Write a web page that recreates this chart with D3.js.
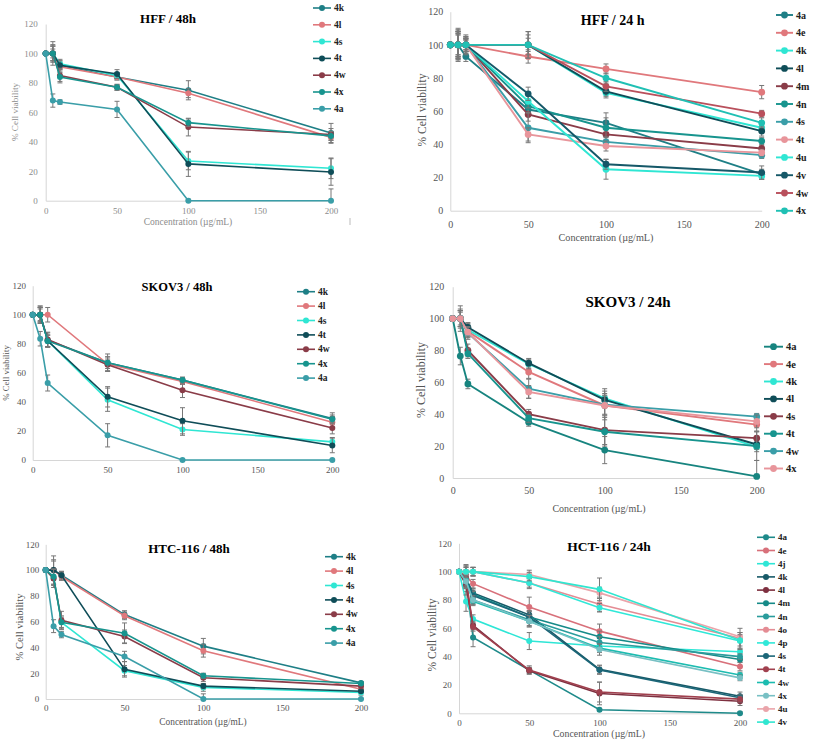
<!DOCTYPE html>
<html>
<head>
<meta charset="utf-8">
<script src="https://cdn.jsdelivr.net/npm/d3@7"></script>
<style>
  body { margin: 0; background: #fff; }
  svg { display: block; }
  svg text { font-family: "Liberation Serif", "DejaVu Serif", serif; }
</style>
</head>
<body>
<svg id="chart" width="813" height="742"></svg>
<script>
// concentrations tested (µg/mL) and axis ticks
var concentrations = [0, 5, 10, 50, 100, 200];
var xTickLabels = [0, 50, 100, 150, 200];
var yTickLabels = [0, 20, 40, 60, 80, 100, 120];

// HFF / 48h
var hff48Series = ["4k", "4l", "4s", "4t", "4w", "4x", "4a"];
var hff48Values = [
    [100, 100, 92, 84, 75, 46],
    [100, 100, 91, 84, 73, 43],
    [100, 100, 93, 85, 27, 22],
    [100, 100, 92, 86, 25, 19.5],
    [100, 100, 85, 77, 50, 45],
    [100, 100, 84, 77, 53, 44],
    [100, 68, 67, 62, 0, 0]
];
var hff48Errors = [
    [0, 8, 3, 2, 6.5, 6.5],
    [0, 6, 3, 2, 3, 4],
    [0, 5, 3, 2, 6, 7],
    [0, 5, 3, 3, 8.5, 9],
    [0, 5, 5, 2, 6, 4],
    [0, 3, 3, 2, 2.5, 3],
    [0, 4.5, 1.5, 5.5, 1, 8]
];

// HFF / 24 h
var hff24Series = ["4a", "4e", "4k", "4l", "4m", "4n", "4s", "4t", "4u", "4v", "4w", "4x"];
var hff24Values = [
    [100, 100, 93, 61, 53, 22],
    [100, 100, 100, 93, 85.5, 71.5],
    [100, 100, 100, 100, 71, 50],
    [100, 100, 100, 100, 72, 48],
    [100, 100, 100, 58, 46, 37.5],
    [100, 100, 100, 63, 50, 42],
    [100, 100, 100, 50, 41.5, 33.5],
    [100, 100, 100, 46, 39, 35],
    [100, 100, 100, 66, 25, 21],
    [100, 100, 100, 70.5, 28, 23],
    [100, 100, 100, 100, 75, 58.5],
    [100, 100, 100, 100, 80, 53]
];
var hff24Errors = [
    [0, 10, 3, 4, 6, 3],
    [0, 8, 4, 4, 3, 4],
    [0, 9, 5, 8, 3, 3],
    [0, 9, 6, 8, 3, 3],
    [0, 8, 5, 4, 4, 2],
    [0, 6, 4, 4, 6, 2],
    [0, 7, 4, 9, 3, 2],
    [0, 7, 3, 4, 3, 2],
    [0, 6, 3, 4, 6, 2],
    [0, 7, 3, 4, 3, 4],
    [0, 8, 4, 4, 3, 2],
    [0, 8, 4, 6, 3, 3]
];

// SKOV3 / 48h
var skov48Series = ["4k", "4l", "4s", "4t", "4w", "4x", "4a"];
var skov48Values = [
    [100, 100, 82.5, 67, 55, 28.5],
    [100, 100, 100, 66, 54, 26],
    [100, 100, 82, 41.5, 21, 12.5],
    [100, 100, 82, 43.5, 27, 10],
    [100, 100, 83, 65.5, 48, 22],
    [100, 100, 82, 67, 55, 28],
    [100, 83.5, 53, 17, 0, 0]
];
var skov48Errors = [
    [0, 6, 5, 6, 2, 4],
    [0, 5, 5, 5, 2, 4],
    [0, 5, 4, 8, 4, 3],
    [0, 6, 4, 7, 9, 5],
    [0, 5, 5, 4, 5, 4],
    [0, 4, 4, 4, 2, 3],
    [0, 5, 5.5, 8, 0.5, 0.5]
];

// SKOV3 / 24h
var skov24Series = ["4a", "4e", "4k", "4l", "4s", "4t", "4w", "4x"];
var skov24Values = [
    [100, 76.5, 59, 35, 17.5, 1],
    [100, 100, 92, 66.5, 45.5, 33.5],
    [100, 100, 93, 71.5, 50, 19.5],
    [100, 100, 94.5, 72, 49, 21],
    [100, 100, 80, 40, 30, 25],
    [100, 100, 78, 37.5, 29, 20],
    [100, 100, 91, 56, 46, 38.5],
    [100, 100, 91.5, 54, 45.5, 35.5]
];
var skov24Errors = [
    [0, 5.5, 3, 2.5, 8.5, 10],
    [0, 6, 4, 4, 9, 4],
    [0, 5, 4, 3, 6, 3],
    [0, 8, 3, 3, 4, 3],
    [0, 5, 4, 3, 9, 4],
    [0, 5, 3, 2.5, 9, 9],
    [0, 5, 4, 6, 6, 2],
    [0, 4, 3, 4, 6, 4]
];

// HTC-116 / 48h
var htc48Series = ["4k", "4l", "4s", "4t", "4w", "4x", "4a"];
var htc48Values = [
    [100, 100, 96, 65.5, 41, 12.5],
    [100, 100, 95, 64.5, 37.5, 7.5],
    [100, 94, 59.5, 22, 9, 5],
    [100, 100, 96, 23, 10, 6],
    [100, 93.5, 61, 48.5, 16.5, 10],
    [100, 95, 59.5, 51, 18, 12],
    [100, 56.5, 50, 33, 0, 0]
];
var htc48Errors = [
    [0, 8, 3, 3, 6, 1],
    [0, 7, 3, 3, 5, 2],
    [0, 6, 4, 4, 3, 2],
    [0, 11, 3, 6, 2, 1],
    [0, 7, 7, 5, 3, 2],
    [0, 6, 5, 8, 2, 1],
    [0, 5, 2.5, 4, 4, 0.5]
];

// HCT-116 / 24h
var hct24Series = ["4a", "4e", "4j", "4k", "4l", "4m", "4n", "4o", "4p", "4s", "4t", "4w", "4x", "4u", "4v"];
var hct24Values = [
    [100, 95, 53.5, 30.5, 2.5, 0],
    [100, 97, 91.5, 75, 58, 33],
    [100, 79, 66.5, 51, 47.5, 43.5],
    [100, 95, 85, 69.5, 31, 12],
    [100, 90.5, 62, 30, 14, 8.5],
    [100, 94, 84, 68, 54, 38],
    [100, 93, 80, 66, 50, 40],
    [100, 100, 100, 92, 77, 53],
    [100, 100, 100, 92, 74.5, 51],
    [100, 95, 83, 68, 30.5, 11],
    [100, 95, 61, 30.5, 15, 10],
    [100, 94, 79, 65, 46, 27],
    [100, 93, 80, 65, 45, 25],
    [100, 100, 100, 98, 85, 54],
    [100, 100, 100, 96.5, 87.5, 51.5]
];
var hct24Errors = [
    [0, 5, 6.5, 2, 1, 1],
    [0, 6, 3, 7, 5, 3],
    [0, 7, 3, 6, 2, 2],
    [0, 5, 3, 3, 3, 3],
    [0, 7, 3, 2, 8, 3],
    [0, 5, 3, 4, 4, 2],
    [0, 5, 3, 4, 4, 2],
    [0, 5, 3, 3, 5, 7],
    [0, 4, 3, 4, 3, 6],
    [0, 5, 3, 4, 3, 2],
    [0, 6, 3, 3, 7, 2],
    [0, 5, 3, 4, 3, 2],
    [0, 5, 3, 4, 4, 2],
    [0, 4, 3, 3, 4, 3],
    [0, 3, 3, 3, 8, 4]
];

// colours
var TEAL = "#1e7f86", PINK = "#e0787c", CYAN = "#2fe6d3", DARK = "#0f4d58",
    MAROON = "#8a3c48", TEAL2 = "#17948e", LTEAL = "#3a9ea8";
var set7 = [TEAL, PINK, CYAN, DARK, MAROON, TEAL2, LTEAL];

var serif = "Liberation Serif, DejaVu Serif, serif";
var svg = d3.select("#chart");

function drawPanel(p) {
    var x = d3.scaleLinear().domain([0, 200]).range([p.x0, p.x1]);
    var y = d3.scaleLinear().domain([0, 120]).range([p.y0, p.y1]);
    var g = svg.append("g");

    //x axis
    var xa = g.append("g")
        .attr("transform", "translate(0," + p.y0 + ")")
        .call(d3.axisBottom(x).tickValues(xTickLabels).tickSize(0).tickPadding(p.xPad));
    //y axis
    var ya = g.append("g")
        .attr("transform", "translate(" + p.x0 + ",0)")
        .call(d3.axisLeft(y).tickValues(yTickLabels).tickSize(0).tickPadding(p.yPad));
    [xa, ya].forEach(function (a) {
        a.attr("font-family", null).attr("font-size", p.tick);
        a.select(".domain").attr("stroke", "#d6d6d6").attr("stroke-width", 1);
        a.selectAll("text").attr("fill", p.textColor).style("font-family", serif);
    });

    var line = d3.line().x((d, i) => x(concentrations[i])).y(d => y(d));

    p.values.forEach(function (vals, s) {
        var col = p.colors[s];
        var errs = p.errors[s];
        var sg = g.append("g");
        // error bars
        vals.forEach(function (v, i) {
            if (!errs[i]) return;
            var cx = x(concentrations[i]);
            var lo = y(Math.max(0, v - errs[i])), hi = y(v + errs[i]);
            sg.append("line").attr("x1", cx).attr("x2", cx).attr("y1", lo).attr("y2", hi)
                .attr("stroke", "#777").attr("stroke-width", 1);
            [lo, hi].forEach(function (yy) {
                sg.append("line").attr("x1", cx - 2.5).attr("x2", cx + 2.5).attr("y1", yy).attr("y2", yy)
                    .attr("stroke", "#777").attr("stroke-width", 1);
            });
        });
        sg.append("path").datum(vals).attr("d", line)
            .attr("fill", "none").attr("stroke", col).attr("stroke-width", p.lw);
        sg.selectAll("circle").data(vals).enter().append("circle")
            .attr("cx", (d, i) => x(concentrations[i]))
            .attr("cy", d => y(d))
            .attr("r", p.r)
            .attr("fill", col);
    });

    //Title
    g.append("text").attr("x", p.title[0]).attr("y", p.title[1])
        .attr("text-anchor", "middle").attr("dominant-baseline", "central")
        .style("font-family", serif).attr("font-weight", "bold").attr("font-size", p.titleSize)
        .attr("fill", "#000").text(p.name);

    //Axis titles
    if (p.xTitle) {
        g.append("text").attr("x", p.xTitle[0]).attr("y", p.xTitle[1])
            .attr("text-anchor", "middle").attr("dominant-baseline", "central")
            .style("font-family", serif).attr("font-size", p.xTitleSize)
            .attr("fill", p.textColor).text("Concentration (µg/mL)");
    }
    g.append("text")
        .attr("transform", "translate(" + p.yTitle[0] + "," + p.yTitle[1] + ") rotate(-90)")
        .attr("text-anchor", "middle").attr("dominant-baseline", "central")
        .style("font-family", serif).attr("font-size", p.yTitleSize)
        .attr("fill", p.textColor).text("% Cell viability");

    //Legend
    var lg = g.append("g");
    p.series.forEach(function (name, i) {
        var ly = p.leg.y + i * p.leg.step;
        lg.append("line").attr("x1", p.leg.x0).attr("x2", p.leg.x1).attr("y1", ly).attr("y2", ly)
            .attr("stroke", p.colors[i]).attr("stroke-width", p.lw);
        lg.append("circle").attr("cx", (p.leg.x0 + p.leg.x1) / 2).attr("cy", ly).attr("r", p.r)
            .attr("fill", p.colors[i]);
        lg.append("text").attr("x", p.leg.x1 + 3).attr("y", ly).attr("dominant-baseline", "central")
            .style("font-family", serif).attr("font-weight", "bold").attr("font-size", p.leg.size)
            .attr("fill", "#222").text(name);
    });
}

drawPanel({
    name: "HFF / 48h", series: hff48Series, values: hff48Values, errors: hff48Errors, colors: set7,
    x0: 45.7, x1: 331, y0: 200.7, y1: 24, xPad: 7, yPad: 8, tick: 9, textColor: "#8c8c8c",
    title: [168, 18.5], titleSize: 13, xTitle: [188, 221.5], xTitleSize: 9.5, yTitle: [15, 112], yTitleSize: 9.2,
    leg: { x0: 313, x1: 331, y: 8, step: 16.8, size: 9.5 }, lw: 1.6, r: 3
});

drawPanel({
    name: "HFF / 24 h", series: hff24Series, values: hff24Values, errors: hff24Errors,
    colors: [TEAL, PINK, CYAN, DARK, MAROON, TEAL2, LTEAL, "#e8959b", CYAN, "#155868", "#b9505c", "#20c0b4"],
    x0: 450.3, x1: 761.7, y0: 210.7, y1: 11.7, xPad: 10.5, yPad: 7, tick: 10, textColor: "#555",
    title: [612.7, 20], titleSize: 14, xTitle: [606, 237], xTitleSize: 10.2, yTitle: [422, 110], yTitleSize: 11.5,
    leg: { x0: 776, x1: 793, y: 15, step: 17.8, size: 10 }, lw: 1.9, r: 3.4
});

drawPanel({
    name: "SKOV3 / 48h", series: skov48Series, values: skov48Values, errors: skov48Errors, colors: set7,
    x0: 32.7, x1: 332.3, y0: 460, y1: 285.7, xPad: 6.8, yPad: 6.7, tick: 9, textColor: "#555",
    title: [177, 286.7], titleSize: 12.5, xTitle: null, yTitle: [6, 373], yTitleSize: 8.8,
    leg: { x0: 297, x1: 315, y: 291.7, step: 14.4, size: 9.5 }, lw: 1.6, r: 3
});

drawPanel({
    name: "SKOV3 / 24h", series: skov24Series, values: skov24Values, errors: skov24Errors,
    colors: ["#17847f", PINK, CYAN, DARK, MAROON, TEAL2, LTEAL, "#e8959b"],
    x0: 452.7, x1: 756.7, y0: 478, y1: 286.7, xPad: 8.4, yPad: 8.4, tick: 10, textColor: "#555",
    title: [628, 301.7], titleSize: 15, xTitle: [599, 508], xTitleSize: 10, yTitle: [420.5, 380], yTitleSize: 12,
    leg: { x0: 764, x1: 783, y: 346.7, step: 17.4, size: 10.5 }, lw: 1.9, r: 3.4
});

drawPanel({
    name: "HTC-116 / 48h", series: htc48Series, values: htc48Values, errors: htc48Errors, colors: set7,
    x0: 45.7, x1: 361, y0: 699, y1: 544.3, xPad: 5.8, yPad: 6.4, tick: 9, textColor: "#555",
    title: [189, 548], titleSize: 13, xTitle: [203, 722], xTitleSize: 9.4, yTitle: [19.5, 627], yTitleSize: 10.6,
    leg: { x0: 325, x1: 343, y: 556.7, step: 14.4, size: 9.5 }, lw: 1.6, r: 3
});

drawPanel({
    name: "HCT-116 / 24h", series: hct24Series, values: hct24Values, errors: hct24Errors,
    colors: ["#1e8a8a", "#d8707a", "#2ee6d6", "#185a68", "#7e3040", "#158a88", "#2a9c9c", "#e48c94",
        "#30e8d8", "#1b6678", "#a0404e", "#1cbcb0", "#78c0c4", "#eaa4aa", "#30e6d0"],
    x0: 459, x1: 740, y0: 713.3, y1: 543.3, xPad: 6.8, yPad: 7.3, tick: 9, textColor: "#555",
    title: [609, 546.7], titleSize: 13.5, xTitle: [599, 733], xTitleSize: 9.9, yTitle: [432, 635], yTitleSize: 11.5,
    leg: { x0: 757, x1: 775, y: 537.3, step: 13.2, size: 9 }, lw: 1.6, r: 3
});

// small stray axis stub under the first panel
svg.append("line").attr("x1", 350).attr("x2", 350).attr("y1", 218).attr("y2", 225)
    .attr("stroke", "#bbb").attr("stroke-width", 1);
</script>
</body>
</html>
